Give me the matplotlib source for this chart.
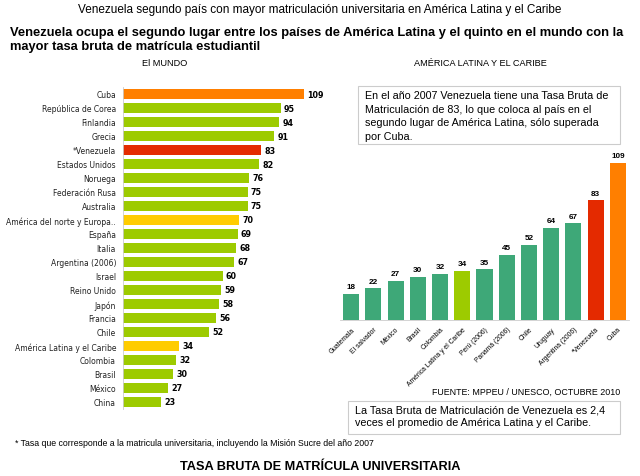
import numpy as np
import matplotlib.pyplot as plt
from matplotlib.patches import Rectangle

plt.rcParams['font.family'] = ['Liberation Sans', 'DejaVu Sans']

# datos - el mundo
mundo_paises = ["Cuba", "República de Corea", "Finlandia", "Grecia", "*Venezuela",
                "Estados Unidos", "Noruega", "Federación Rusa", "Australia",
                "América del norte y Europa..", "España", "Italia", "Argentina (2006)",
                "Israel", "Reino Unido", "Japón", "Francia", "Chile",
                "América Latina y el Caribe", "Colombia", "Brasil", "México", "China"]
mundo_tasa = [109, 95, 94, 91, 83, 82, 76, 75, 75, 70, 69, 68, 67,
              60, 59, 58, 56, 52, 34, 32, 30, 27, 23]

# datos - america latina
al_paises = ["Guatemala", "El salvador", "México", "Brasil", "Colombia",
             "América Latina y el Caribe", "Perú (2006)", "Panamá (2006)", "Chile",
             "Uruguay", "Argentina (2006)", "*Venezuela", "Cuba"]
al_tasa = [18, 22, 27, 30, 32, 34, 35, 45, 52, 64, 67, 83, 109]

verde = "#9dcb00"
teal = "#3ea878"
naranja = "#ff7f00"
rojo = "#e42a00"
amarillo = "#ffcc00"

W, H = 640, 477
fig = plt.figure(figsize=(6.4, 4.77), dpi=100)

def px(x, y):
    return x / W, 1 - y / H

def pax(x0, y0, x1, y1):
    return fig.add_axes([x0 / W, 1 - y1 / H, (x1 - x0) / W, (y1 - y0) / H])

# titulos
fig.text(*px(320, 10), "Venezuela segundo país con mayor matriculación universitaria en América Latina y el Caribe",
         ha="center", va="center", fontsize=8.5)
fig.text(*px(10, 33), "Venezuela ocupa el segundo lugar entre los países de América Latina y el quinto en el mundo con la",
         ha="left", va="center", fontsize=9.3, fontweight="bold")
fig.text(*px(10, 47), "mayor tasa bruta de matrícula estudiantil",
         ha="left", va="center", fontsize=9.3, fontweight="bold")
fig.text(*px(165, 64), "El MUNDO", ha="center", va="center", fontsize=6.6)
fig.text(*px(480, 64), "AMÉRICA LATINA Y EL CARIBE", ha="center", va="center", fontsize=6.6)

# grafico el mundo
ax1 = pax(123, 88, 323, 410)
y = np.arange(len(mundo_paises))
col1 = []
for p in mundo_paises:
    if p == "Cuba":
        col1.append(naranja)
    elif p == "*Venezuela":
        col1.append(rojo)
    elif p.startswith("América"):
        col1.append(amarillo)
    else:
        col1.append(verde)
ax1.barh(y, mundo_tasa, height=0.78, color=col1)
ax1.set_ylim(len(y) - 0.5, -0.5)
ax1.set_xlim(0, 200 / 1.66)
ax1.set_yticks(y)
ax1.set_yticklabels(mundo_paises, fontsize=5.5, family="DejaVu Sans", color="#222222")
ax1.tick_params(axis="y", length=0, pad=5)
ax1.set_xticks([])
for s in ["top", "right", "bottom"]:
    ax1.spines[s].set_visible(False)
ax1.spines["left"].set_color("#cccccc")
ax1.spines["left"].set_linewidth(0.6)
for yi, v in zip(y, mundo_tasa):
    ax1.text(v + 2, yi, str(v), va="center", ha="left", fontsize=5.8,
             fontweight="bold", family="DejaVu Sans")

# grafico america latina
ax2 = pax(340, 155, 629, 321)
x = np.arange(len(al_paises))
col2 = []
for p in al_paises:
    if p == "Cuba":
        col2.append(naranja)
    elif p == "*Venezuela":
        col2.append(rojo)
    elif p.startswith("América"):
        col2.append(verde)
    else:
        col2.append(teal)
ax2.bar(x, al_tasa, width=0.72, color=col2)
ax2.set_xlim(-0.5, len(x) - 0.5)
ax2.set_ylim(0, 115)
ax2.set_xticks(x)
ax2.set_xticklabels(al_paises, rotation=45, ha="right", rotation_mode="anchor", fontsize=4.9)
ax2.tick_params(axis="x", length=0, pad=4)
ax2.set_yticks([])
for s in ["top", "right", "left"]:
    ax2.spines[s].set_visible(False)
ax2.spines["bottom"].set_color("#cccccc")
ax2.spines["bottom"].set_linewidth(0.6)
for xi, v in zip(x, al_tasa):
    ax2.text(xi, v + 2.5, str(v), ha="center", va="bottom", fontsize=5.9, fontweight="bold")

# cuadros de texto
fig.patches.append(Rectangle(px(358, 145), (620 - 358) / W, (145 - 87) / H,
                             transform=fig.transFigure, fill=False, edgecolor="#cccccc", lw=0.8))
fig.text(*px(365, 91), "En el año 2007 Venezuela tiene una Tasa Bruta de\n"
         "Matriculación de 83, lo que coloca al país en el\n"
         "segundo lugar de América Latina, sólo superada\n"
         "por Cuba.", ha="left", va="top", fontsize=7.75, linespacing=1.45)

fig.text(*px(620, 392), "FUENTE: MPPEU / UNESCO, OCTUBRE 2010", ha="right", va="center", fontsize=6.4)

fig.patches.append(Rectangle(px(348, 435), (620 - 348) / W, (435 - 402) / H,
                             transform=fig.transFigure, fill=False, edgecolor="#cccccc", lw=0.8))
fig.text(*px(355, 406), "La Tasa Bruta de Matriculación de Venezuela es 2,4\n"
         "veces el promedio de América Latina y el Caribe.",
         ha="left", va="top", fontsize=7.75, linespacing=1.3)

fig.text(*px(15, 444), "* Tasa que corresponde a la matricula universitaria, incluyendo la Misión Sucre del año 2007",
         ha="left", va="center", fontsize=6.3)
fig.text(*px(320, 467), "TASA BRUTA DE MATRÍCULA UNIVERSITARIA", ha="center", va="center",
         fontsize=9.2, fontweight="bold")

fig.savefig("out.png", dpi=100)
